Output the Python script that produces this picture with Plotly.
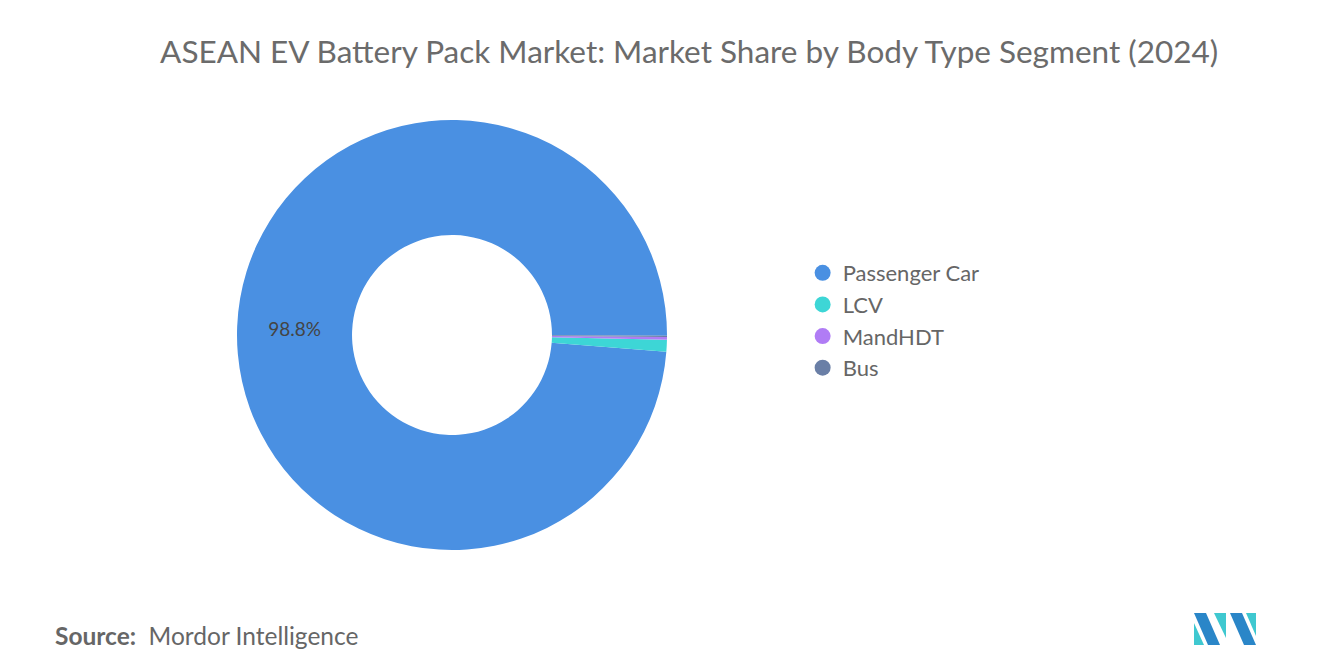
import plotly.graph_objects as go

labels = ["Passenger Car", "LCV", "MandHDT", "Bus"]
shares = [98.8, 0.9, 0.2, 0.1]
colors = ["#4a90e2", "#3dd6d6", "#b07cf5", "#6a7fa6"]
shown_text = ["98.8%", "", "", ""]

fig = go.Figure(go.Pie(
    labels=labels,
    values=shares,
    text=shown_text,
    textinfo="text",
    textposition="inside",
    insidetextfont=dict(color="#444444", size=19),
    marker=dict(colors=colors),
    hole=0.465,
    sort=False,
    direction="counterclockwise",
    rotation=94.5,
    showlegend=False,
    domain=dict(x=[229 / 1320, 659 / 1320], y=[123 / 665, 553 / 665]),
))

# legend entries with round markers
for name, col in zip(labels, colors):
    fig.add_trace(go.Scatter(x=[None], y=[None], mode="markers", name=name,
                             marker=dict(color=col, size=22, symbol="circle")))

# logo
for path, col in [
    ("M 1186,605 L 1198,605 L 1212,637 L 1200,637 Z", "#2a86c8"),
    ("M 1186,615 L 1196,637 L 1186,637 Z", "#3fc8d0"),
    ("M 1206,605 L 1218,605 L 1218,630 Z", "#3fc8d0"),
    ("M 1222,605 L 1234,605 L 1248,637 L 1236,637 Z", "#2a86c8"),
    ("M 1238,605 L 1248,605 L 1248,628 Z", "#3fc8d0"),
]:
    fig.add_shape(type="path", path=path, xref="x", yref="y", fillcolor=col, line_width=0)

fig.update_xaxes(range=[0, 1320], visible=False, fixedrange=True)
fig.update_yaxes(range=[665, 0], visible=False, fixedrange=True)

fig.update_layout(
    width=1320, height=665,
    margin=dict(l=0, r=0, t=0, b=0),
    paper_bgcolor="white", plot_bgcolor="white",
    font=dict(family="Lato, sans-serif", color="#555555"),
    title=dict(text="ASEAN EV Battery Pack Market: Market Share by Body Type Segment (2024)",
               x=0.516, xanchor="center", y=0.934, yanchor="middle",
               font=dict(size=31.5, color="#6b6b6b")),
    legend=dict(x=0.602, y=0.53, xanchor="left", yanchor="middle",
                font=dict(size=22, color="#666666"), tracegroupgap=0),
    annotations=[dict(text="<b>Source:</b>  Mordor Intelligence", xref="paper", yref="paper",
                      x=0.034, y=0.057, xanchor="left", yanchor="middle", showarrow=False,
                      font=dict(size=24.5, color="#666666"))],
)

fig.write_html("out.html")
